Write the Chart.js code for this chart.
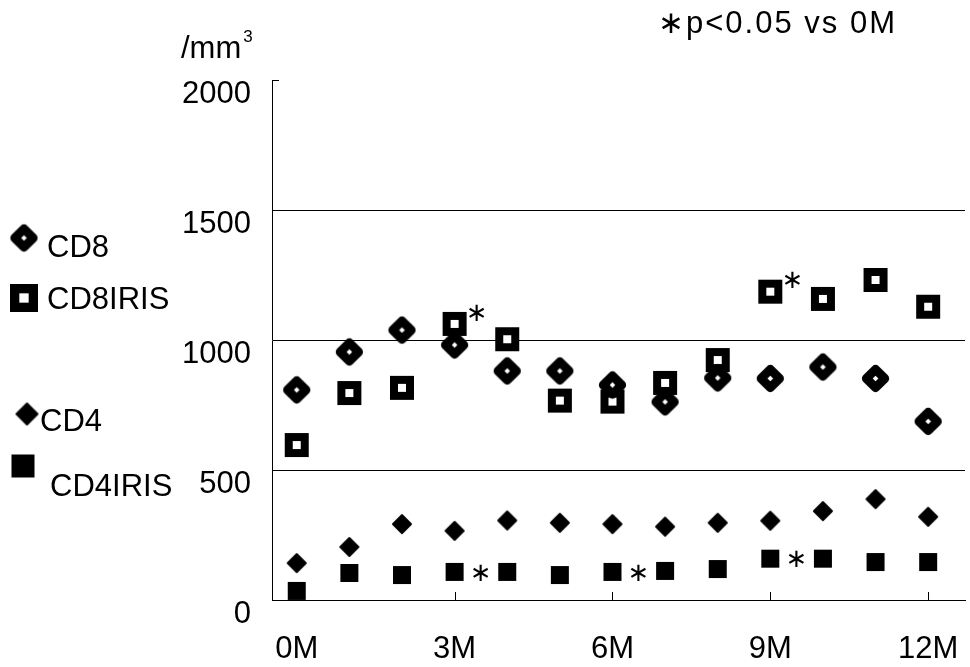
<!DOCTYPE html>
<html>
<head>
<meta charset="utf-8">
<script src="https://cdn.jsdelivr.net/npm/chart.js@4"></script>
<style>
  body { margin: 0; background: #fff; }
</style>
</head>
<body>
<canvas id="myChart" width="970" height="667"></canvas>
<script>
// months after start, cells/mm3
const months = [0, 1, 2, 3, 4, 5, 6, 7, 8, 9, 10, 11, 12];
const cd8 = [808, 954, 1038, 981, 881, 881, 827, 762, 854, 852, 896, 852, 687];
const cd8iris = [596, 796, 816, 1062, 1003, 767, 763, 835, 923, 1186, 1158, 1231, 1128];
const cd4 = [142, 204, 292, 266, 306, 297, 292, 282, 297, 305, 342, 388, 320];
const cd4iris = [35, 104, 96, 108, 108, 96, 108, 112, 119, 159, 159, 146, 146];
// p<0.05 vs 0M
const sigCd8iris = [3, 9];
const sigCd4iris = [3, 6, 9];
const tickMonths = [0, 3, 6, 9, 12];
const yTicks = [0, 500, 1000, 1500, 2000];

const FONT = '"Liberation Sans", Arial, sans-serif';

function marker(kind, size) {
    const c = document.createElement('canvas');
    c.width = c.height = size + 6;
    const g = c.getContext('2d');
    const m = c.width / 2;
    g.fillStyle = '#000';
    g.strokeStyle = '#000';
    if (kind === 'openDiamond' || kind === 'diamond') {
        const open = kind === 'openDiamond';
        const r = open ? size * 0.34 : size / 2 - 1;
        g.beginPath();
        g.moveTo(m, m - r); g.lineTo(m + r, m); g.lineTo(m, m + r); g.lineTo(m - r, m);
        g.closePath();
        g.lineJoin = 'round';
        g.lineWidth = open ? size * 0.33 : 2;
        g.fillStyle = open ? '#fff' : '#000';
        g.fill();
        g.stroke();
    } else if (kind === 'openSquare') {
        const lw = size / 3;
        const s = size - lw;
        g.fillRect(m - size / 2, m - size / 2, size, size);
        g.fillStyle = '#fff';
        g.fillRect(m - s / 2 + lw / 2, m - s / 2 + lw / 2, s - lw, s - lw);
    } else {
        g.fillRect(m - size / 2, m - size / 2, size, size);
    }
    return c;
}

const mk = {
    cd8: marker('openDiamond', 27),
    cd8iris: marker('openSquare', 24),
    cd4: marker('diamond', 20),
    cd4iris: marker('square', 18)
};

function pts(arr) {
    return months.map((m, i) => ({x: m, y: arr[i]}));
}

const extras = {
    id: 'extras',
    afterDraw(chart) {
        const c = chart.ctx;
        const xs = chart.scales.x, ys = chart.scales.y;
        const a = chart.chartArea;
        c.save();
        c.strokeStyle = '#000';
        c.lineWidth = 1;
        // inward tick marks
        c.beginPath();
        tickMonths.slice(1).forEach(m => {
            const px = Math.round(xs.getPixelForValue(m)) + 0.5;
            c.moveTo(px, a.bottom); c.lineTo(px, a.bottom - 8);
        });
        const ty = Math.round(ys.getPixelForValue(2000)) + 0.5;
        c.moveTo(a.left, ty); c.lineTo(a.left + 7, ty);
        c.stroke();

        // significance stars
        c.fillStyle = '#000';
        c.font = '26px "DejaVu Sans", sans-serif';
        c.textAlign = 'center';
        c.textBaseline = 'middle';
        sigCd8iris.forEach(m => {
            const i = months.indexOf(m);
            c.fillText('∗', xs.getPixelForValue(m) + 22, ys.getPixelForValue(cd8iris[i]) - 10);
        });
        sigCd4iris.forEach(m => {
            const i = months.indexOf(m);
            c.fillText('∗', xs.getPixelForValue(m) + 26, ys.getPixelForValue(cd4iris[i]) + 2);
        });

        // unit label and note
        c.textAlign = 'left';
        c.textBaseline = 'alphabetic';
        c.font = '31px ' + FONT;
        c.fillText('/mm', 181, 58);
        const w = c.measureText('/mm').width;
        c.font = '17px ' + FONT;
        c.fillText('3', 181 + w + 2, 42);
        c.font = '31px ' + FONT;
        c.letterSpacing = '2px';
        c.fillText('∗p<0.05 vs 0M', 658, 33);
        c.letterSpacing = '0px';

        // legend
        const leg = [
            [mk.cd8, 24, 238, 'CD8', 47, 248],
            [marker('openSquare', 28), 24, 298, 'CD8IRIS', 47, 300],
            [marker('diamond', 23), 27, 414, 'CD4', 40, 422],
            [marker('square', 23), 23, 466, 'CD4IRIS', 50, 487]
        ];
        c.font = '31px ' + FONT;
        c.textBaseline = 'middle';
        leg.forEach(([img, x, y, label, tx, tyy]) => {
            c.drawImage(img, x - img.width / 2, y - img.height / 2);
            c.fillText(label, tx, tyy);
        });
        c.restore();
    }
};

const ctx = document.getElementById('myChart').getContext('2d');
new Chart(ctx, {
    type: 'scatter',
    data: {
        datasets: [
            {label: 'CD8', data: pts(cd8), pointStyle: mk.cd8},
            {label: 'CD8IRIS', data: pts(cd8iris), pointStyle: mk.cd8iris},
            {label: 'CD4', data: pts(cd4), pointStyle: mk.cd4},
            {label: 'CD4IRIS', data: pts(cd4iris), pointStyle: mk.cd4iris}
        ]
    },
    options: {
        responsive: false,
        animation: false,
        layout: {padding: {left: 0, top: 80, right: 2, bottom: 0}},
        plugins: {
            legend: {display: false},
            tooltip: {enabled: false}
        },
        scales: {
            x: {
                type: 'linear',
                min: -0.47,
                max: 12.7,
                afterBuildTicks: s => { s.ticks = tickMonths.map(v => ({value: v})); },
                afterFit: s => { s.height = 67; s.paddingLeft = 0; s.paddingRight = 0; },
                border: {color: '#000', width: 1},
                grid: {display: true, drawOnChartArea: false, drawTicks: false},
                ticks: {
                    padding: 31,
                    color: '#000',
                    font: {family: FONT, size: 31},
                    maxRotation: 0,
                    callback: v => v + 'M'
                }
            },
            y: {
                min: 0,
                max: 2000,
                afterBuildTicks: s => { s.ticks = yTicks.map(v => ({value: v})); },
                afterFit: s => { s.width = 272; s.paddingTop = 0; s.paddingBottom = 0; },
                border: {color: '#000', width: 1},
                grid: {
                    drawTicks: false,
                    color: c => (c.tick && (c.tick.value === 0 || c.tick.value === 2000)) ? 'rgba(0,0,0,0)' : '#000',
                    lineWidth: 1
                },
                ticks: {
                    padding: 21,
                    labelOffset: 14,
                    color: '#000',
                    font: {family: FONT, size: 31},
                    callback: v => String(v)
                }
            }
        }
    },
    plugins: [extras]
});
</script>
</body>
</html>
